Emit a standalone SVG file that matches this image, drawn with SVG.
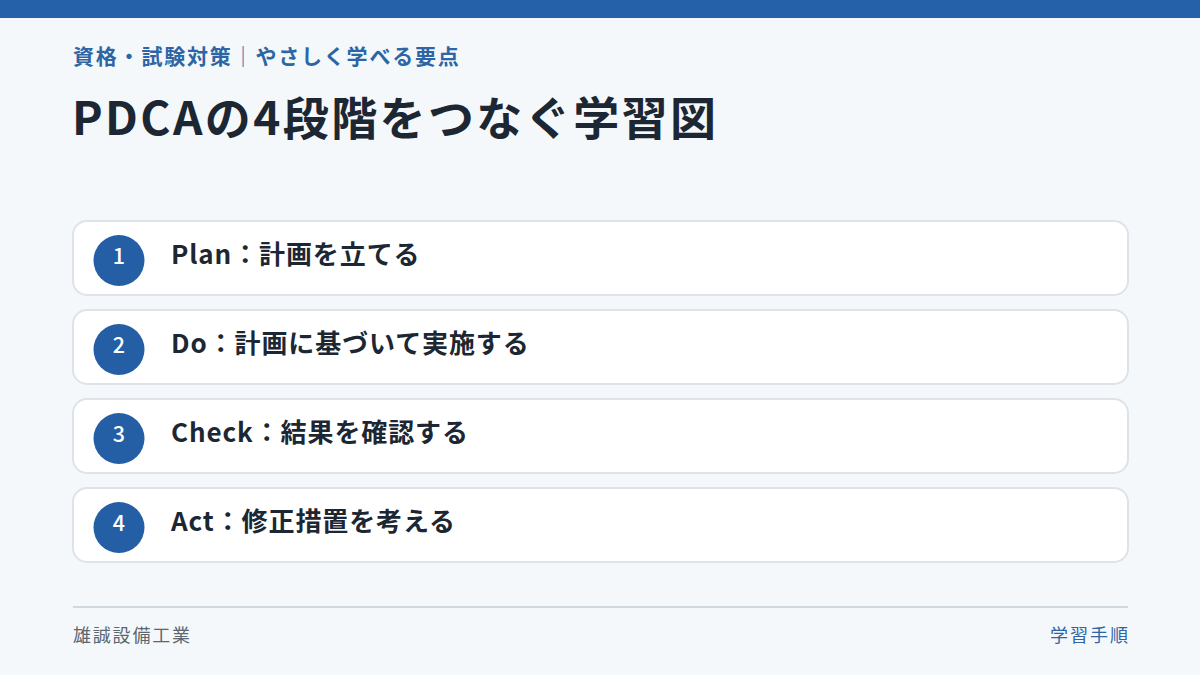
<svg xmlns="http://www.w3.org/2000/svg" width="1200" height="675" viewBox="0 0 1200 675">
<style>
.card{fill:#ffffff;stroke:#dde3e9;stroke-width:2}
.badge{fill:#245fa5}
.num{font-family:"Noto Sans CJK JP","Noto Sans",sans-serif;font-size:21.5px;font-weight:500;fill:#ffffff;text-anchor:middle}
.lbl{font-family:"Noto Sans CJK JP","Noto Sans",sans-serif;font-size:26px;font-weight:700;fill:#1c2733;letter-spacing:0.9px}
</style>
<rect x="0" y="0" width="1200" height="675" fill="#f4f8fa"/>
<rect x="0" y="0" width="1200" height="18" fill="#2461a8"/>
<text x="73" y="64" font-family="Noto Sans CJK JP, sans-serif" font-size="21" font-weight="700" fill="#2d65a5" letter-spacing="1.8">資格・試験対策<tspan font-weight="400">｜</tspan>やさしく学べる要点</text>
<text x="72" y="135" font-family="Noto Sans CJK JP, sans-serif" font-size="46" font-weight="700" fill="#1c2733" letter-spacing="2.4">PDCAの4段階をつなぐ学習図</text>
<g id="connectors"></g>
<g id="step1">
<rect class="card" x="73" y="221" width="1055" height="74" rx="14"/>
<circle class="badge" cx="119" cy="260.5" r="25.5"/>
<text class="num" x="119" y="263.5">1</text>
<text class="lbl" x="171" y="264">Plan：計画を立てる</text>
</g>
<g id="step2">
<rect class="card" x="73" y="310" width="1055" height="74" rx="14"/>
<circle class="badge" cx="119" cy="349.5" r="25.5"/>
<text class="num" x="119" y="352.5">2</text>
<text class="lbl" x="171" y="353">Do：計画に基づいて実施する</text>
</g>
<g id="step3">
<rect class="card" x="73" y="399" width="1055" height="74" rx="14"/>
<circle class="badge" cx="119" cy="438.5" r="25.5"/>
<text class="num" x="119" y="441.5">3</text>
<text class="lbl" x="171" y="442">Check：結果を確認する</text>
</g>
<g id="step4">
<rect class="card" x="73" y="488" width="1055" height="74" rx="14"/>
<circle class="badge" cx="119" cy="527.5" r="25.5"/>
<text class="num" x="119" y="530.5">4</text>
<text class="lbl" x="171" y="531">Act：修正措置を考える</text>
</g>
<line x1="73" y1="607" x2="1128" y2="607" stroke="#d0d9df" stroke-width="2"/>
<text x="73" y="642" font-family="Noto Sans CJK JP, sans-serif" font-size="18" fill="#5c6670" letter-spacing="1.8">雄誠設備工業</text>
<text x="1130" y="642" text-anchor="end" font-family="Noto Sans CJK JP, sans-serif" font-size="18" fill="#2d65a5" letter-spacing="2">学習手順</text>
</svg>
